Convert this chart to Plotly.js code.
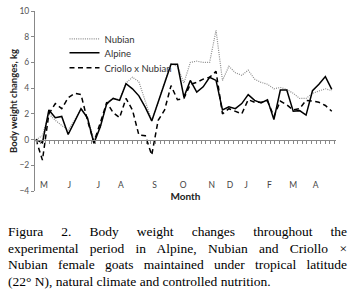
<!DOCTYPE html>
<html><head><meta charset="utf-8">
<script src="https://cdn.plot.ly/plotly-3.0.1.min.js"></script>
<style>
html,body{margin:0;padding:0;background:#fff;}
#wrap{position:relative;width:352px;height:296px;overflow:hidden;background:#fff;}
#chart{position:absolute;left:0;top:0;width:352px;height:296px;}
#cap{position:absolute;left:8px;top:224px;width:339px;font-family:"Liberation Serif","Times New Roman",serif;font-size:13.5px;line-height:16.6px;color:#000;}
#cap .j{text-align:justify;text-align-last:justify;}
#cap .l{text-align:left;}
</style></head>
<body><div id="wrap"><div id="chart"></div>
<div id="cap">
<div class="j">Figura 2. Body weight changes throughout the</div>
<div class="j">experimental period in Alpine, Nubian and Criollo ×</div>
<div class="j">Nubian female goats maintained under tropical latitude</div>
<div class="l">(22° N), natural climate and controlled nutrition.</div>
</div></div>
<script>
// sampling day (weekly samples)
const days = [0,7,14,21,28,35,42,49,56,63,70,77,84,91,98,105,112,119,126,133,140,147,154,161,168,175,182,189,196,203,210,217,224,231,238,245,252,259,266,273,280,287,294,301,308,315,322];
const nubian = [0,0.3,2.0,1.5,1.1,0.75,1.5,2.4,1.7,0.0,0.9,2.9,3.2,3.1,4.4,4.85,4.5,3.05,1.45,2.9,4.5,5.9,5.7,4.4,6.0,6.1,6.0,6.0,8.5,4.6,5.7,5.2,5.0,5.4,4.7,4.45,4.3,3.95,4.05,3.9,3.6,3.2,3.2,3.6,3.8,3.95,3.8];
const alpine = [0,-0.25,2.3,1.7,1.8,0.4,1.4,2.4,1.7,-0.3,1.0,2.8,3.2,3.05,4.35,3.95,3.4,2.5,1.45,2.9,4.5,5.85,5.85,3.3,4.6,3.7,4.1,4.85,4.6,2.3,2.55,2.4,2.8,3.5,3.05,2.85,3.1,1.55,3.85,3.85,2.2,2.25,1.9,3.8,4.3,4.9,3.9];
const criollo = [0,-1.6,2.0,2.8,2.4,3.25,3.6,3.5,1.5,-0.2,1.3,2.9,2.1,1.7,3.2,2.3,0.35,0.3,-1.2,1.5,2.3,4.2,3.1,3.2,4.3,4.45,4.7,4.85,5.3,2.0,2.4,2.2,2.0,3.1,2.9,2.9,3.0,1.8,3.0,2.7,2.3,2.4,3.05,3.0,2.9,2.65,2.2];
const monthPos = [8.7,36.3,67.8,92.5,129.2,160.3,191.3,211.2,228.6,254,280.1,304.5];
const monthLabels = ["M","J","J","A","S","O","N","D","J","F","M","A"];
const seriesNames = ["Nubian","Alpine","Criollo x Nubian"];

const xr = [-1.1, 326.6];
const font = "Lato, 'Open Sans', sans-serif";
const legFont = {family: font, size: 9.5, color: "#333"};

const traces = [
  {x: days, y: nubian, name: seriesNames[0], legend: "legend", mode: "lines", line: {color: "#8c8c8c", width: 1.2, dash: "1px,1.2px"}},
  {x: days, y: alpine, name: seriesNames[1], legend: "legend2", mode: "lines", line: {color: "#000", width: 1.5}},
  {x: days, y: criollo, name: seriesNames[2], legend: "legend3", mode: "lines", line: {color: "#000", width: 1.5, dash: "5px,3.5px"}},
  {x: days, y: days.map(() => null), xaxis: "x2", yaxis: "y", showlegend: false, hoverinfo: "skip", mode: "lines"}
];

const lx = 0.098;
const layout = {
  width: 352, height: 296,
  margin: {l: 35, r: 16, t: 11, b: 105},
  paper_bgcolor: "#fff", plot_bgcolor: "#fff",
  showlegend: true,
  legend:  {x: lx, y: 0.926, xanchor: "left", yanchor: "top", bgcolor: "rgba(0,0,0,0)", font: legFont},
  legend2: {x: lx, y: 0.848, xanchor: "left", yanchor: "top", bgcolor: "rgba(0,0,0,0)", font: legFont},
  legend3: {x: lx, y: 0.765, xanchor: "left", yanchor: "top", bgcolor: "rgba(0,0,0,0)", font: legFont},
  xaxis: {range: xr, tickvals: monthPos, ticktext: monthLabels, showgrid: false, zeroline: false,
          showline: false, ticks: "", anchor: "free", position: 0.07,
          tickfont: {family: font, size: 8.5, color: "#444"},
          title: {text: "<b>Month</b>", font: {family: font, size: 10, color: "#222"}, standoff: 1}},
  xaxis2: {range: xr, overlaying: "x", anchor: "free", position: 4/14, side: "bottom",
           showline: true, linecolor: "#888", linewidth: 1, ticks: "outside", ticklen: 3, tickcolor: "#888",
           tick0: 0, dtick: 5, showticklabels: false, showgrid: false, zeroline: false},
  yaxis: {range: [-4, 10], dtick: 2, showgrid: false, zeroline: false, showline: true, linecolor: "#888",
          ticks: "outside", ticklen: 3, tickcolor: "#888",
          tickfont: {family: font, size: 8.5, color: "#555"},
          title: {text: "<b>Body weight changes, kg</b>", font: {family: font, size: 9.5, color: "#222"}, standoff: 0}}
};

Plotly.newPlot("chart", traces, layout, {staticPlot: true, displayModeBar: false});
</script>
</body></html>
